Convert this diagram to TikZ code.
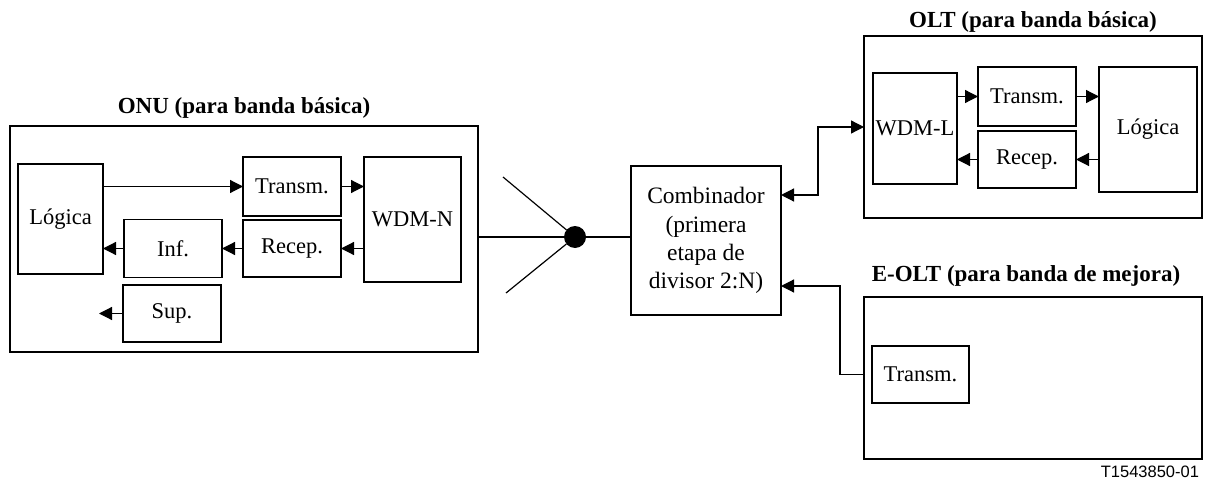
\documentclass[tikz,border=0pt]{standalone}
\usepackage{fontspec}
\setmainfont{Liberation Serif}
\newfontfamily\codefont{Liberation Sans}
\usepackage{tikz}
\usetikzlibrary{positioning, arrows.meta}

\begin{document}
\begin{tikzpicture}[
    x=1pt, y=-1pt,
    every node/.style={inner sep=0pt, outer sep=0pt, font=\fontsize{22.5}{28}\selectfont},
    block/.style={rectangle, draw, line width=1.2pt, align=center},
    frame/.style={rectangle, draw, line width=1.2pt},
    title/.style={font=\fontsize{23}{28}\selectfont\bfseries},
    line width=1.2pt,
    ->, >={Triangle[length=13pt, width=13pt]}
]
\useasboundingbox (0,0) rectangle (1209,481);

% ONU
\node[frame, minimum width=468pt, minimum height=226pt] (onu) at (244,239) {};
\node[title] (onuT) at (244,108) {ONU (para banda básica)};
\node[block, minimum width=85pt, minimum height=110pt] (logN) at (60.5,219) {Lógica};
\node[block, minimum width=98pt, minimum height=59pt] (txN) at (292,186.5) {Transm.};
\node[block, minimum width=97pt, minimum height=125pt] (wdmN) at (412.5,219.5) {WDM-N};
\node[block, minimum width=98pt, minimum height=57pt] (rxN) at (292,248.5) {Recep.};
\node[block, minimum width=98pt, minimum height=58pt] (infN) at (173,248.5) {Inf.};
\node[block, minimum width=98pt, minimum height=57pt] (supN) at (172,313.5) {Sup.};
\coordinate (supOut) at (99,313.5);

\draw (logN.east |- txN) -- (txN);
\draw (txN) -- (txN -| wdmN.west);
\draw (wdmN.west |- rxN) -- (rxN);
\draw (rxN) -- (infN);
\draw (infN) -- (infN -| logN.east);
\draw (supN) -- (supOut);

% Splitter
\node[circle, fill, minimum size=22pt] (dot) at (575,237) {};
\coordinate (fanA) at (503,177);
\coordinate (fanB) at (506,293);
\foreach \f in {fanA, fanB} {
    \draw[-] (\f) -- (dot);
}
\draw[-] (dot -| onu.east) -- (dot);

% Combiner
\node[block, minimum width=150pt, minimum height=149pt, font=\fontsize{23.5}{28.3}\selectfont] (comb) at (706,240.5)
    {Combinador\\(primera\\etapa de\\divisor 2:N)};
\draw[-] (dot) -- (dot -| comb.west);

% OLT
\node[frame, minimum width=338pt, minimum height=182pt] (olt) at (1033,127) {};
\node[title] (oltT) at (1033,22) {OLT (para banda básica)};
\node[block, minimum width=84pt, minimum height=111pt] (wdmL) at (915,128.5) {WDM-L};
\node[block, minimum width=98pt, minimum height=59pt] (txL) at (1027,96.5) {Transm.};
\node[block, minimum width=98pt, minimum height=57pt] (rxL) at (1027,159.5) {Recep.};
\node[block, minimum width=98pt, minimum height=125pt] (logL) at (1148,129.5) {Lógica};

\draw (wdmL.east |- txL) -- (txL);
\draw (txL) -- (txL -| logL.west);
\draw (logL.west |- rxL) -- (rxL);
\draw (rxL) -- (rxL -| wdmL.east);

% E-OLT
\node[frame, minimum width=338pt, minimum height=162pt] (eolt) at (1033,378) {};
\node[title] (eoltT) at (1026,276) {E-OLT (para banda de mejora)};
\node[block, minimum width=97pt, minimum height=57pt] (txE) at (920.5,374.5) {Transm.};

% Links to the combiner
\coordinate (jOLT) at (818,0);
\coordinate (jE) at (840,0);
\draw[<->] ([yshift=45.5pt]comb.east) -| (jOLT |- olt.west) -- (olt.west);
\draw (eolt.west |- txE) -| (jE |- 286,286) -- ([yshift=-45.5pt]comb.east);

\node[anchor=east, font=\fontsize{16.5}{20}\codefont] (code) at (1199,472) {T1543850-01};

\end{tikzpicture}
\end{document}
